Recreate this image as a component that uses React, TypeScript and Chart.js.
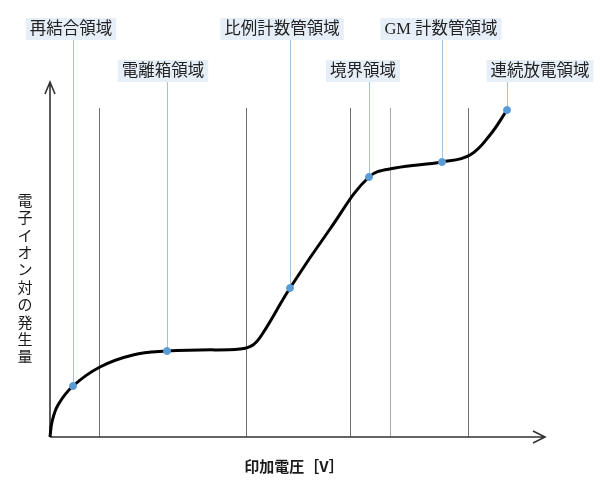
import React, { useEffect, useRef } from "react";
import { Chart, registerables } from "chart.js";

Chart.register(...registerables);

// Curve (arbitrary units: applied voltage vs. ion-pair count)
const curveX = [0, 2, 8, 23, 50, 83, 117, 150, 190, 203, 213, 240, 280, 319, 345, 392, 420, 440, 457];
const curveY = [0, 15, 32, 51, 70, 82, 86, 87, 88, 92, 104, 149, 208, 260, 269, 275, 282, 302, 327];

// Region callouts
const regionLabels = ["再結合領域", "電離箱領域", "比例計数管領域", "境界領域", "GM 計数管領域", "連続放電領域"];
const regionX = [23, 117, 240, 319, 392, 457];
const regionY = [51, 86, 149, 260, 275, 327];

// Region boundaries
const boundaryX = [49, 196, 300, 340, 418];
const boundaryTop = 329;

const xMax = 495;
const yMax = 355;

const xTitle = "印加電圧［V］";
const yTitle = "電子イオン対の発生量";

export default function App() {
  const ref = useRef<HTMLCanvasElement | null>(null);

  useEffect(() => {
    if (!ref.current) return;
    const labelLayout = [
      { dx: -2, row: 0 },
      { dx: -4, row: 1 },
      { dx: -8, row: 0 },
      { dx: -6, row: 1 },
      { dx: -1, row: 0 },
      { dx: 33, row: 1 },
    ];
    const rowTop = [18, 60];
    const boxH = 22;
    const labelFont = "16.5px 'Liberation Serif', 'Noto Sans CJK JP'";

    const decor = {
      id: "decor",
      beforeDatasetsDraw(chart: any) {
        const { ctx, scales } = chart;
        const xs = scales.x, ys = scales.y;
        ctx.save();
        boundaryX.forEach((bx, i) => {
          const px = Math.round(xs.getPixelForValue(bx)) + 0.5;
          ctx.strokeStyle = i === 3 ? "#a8a8a8" : "#6e6e6e";
          ctx.lineWidth = 1;
          ctx.beginPath();
          ctx.moveTo(px, ys.getPixelForValue(boundaryTop));
          ctx.lineTo(px, ys.getPixelForValue(0));
          ctx.stroke();
        });
        ctx.strokeStyle = "#9fc4e2";
        ctx.lineWidth = 1;
        regionX.forEach((rx, i) => {
          const px = Math.round(xs.getPixelForValue(rx)) + 0.5;
          const top = rowTop[labelLayout[i].row] + boxH;
          ctx.beginPath();
          ctx.moveTo(px, top);
          ctx.lineTo(px, ys.getPixelForValue(regionY[i]));
          ctx.stroke();
        });
        const x0 = xs.getPixelForValue(0);
        const y0 = ys.getPixelForValue(0);
        const x1 = xs.getPixelForValue(xMax);
        const y1 = ys.getPixelForValue(yMax);
        ctx.strokeStyle = "#333";
        ctx.lineWidth = 1.6;
        ctx.beginPath();
        ctx.moveTo(x0, y0);
        ctx.lineTo(x0, y1);
        ctx.moveTo(x0 - 5, y1 + 12);
        ctx.lineTo(x0, y1);
        ctx.lineTo(x0 + 5, y1 + 12);
        ctx.moveTo(x0, y0);
        ctx.lineTo(x1, y0);
        ctx.moveTo(x1 - 12, y0 - 6);
        ctx.lineTo(x1, y0);
        ctx.lineTo(x1 - 12, y0 + 6);
        ctx.stroke();
        ctx.fillStyle = "#1a1a1a";
        ctx.font = "bold 15px 'Noto Sans CJK JP'";
        ctx.textAlign = "center";
        ctx.textBaseline = "middle";
        ctx.fillText(xTitle, 294, 466);
        ctx.font = "15px 'Noto Sans CJK JP'";
        const chars = Array.from(yTitle);
        chars.forEach((c, i) => {
          ctx.fillText(c, 25, 200 + i * 17.4);
        });
        ctx.restore();
      },
      afterDatasetsDraw(chart: any) {
        const { ctx, scales } = chart;
        const xs = scales.x;
        ctx.save();
        ctx.font = labelFont;
        ctx.textAlign = "center";
        ctx.textBaseline = "middle";
        regionLabels.forEach((t, i) => {
          const cx = xs.getPixelForValue(regionX[i]) + labelLayout[i].dx;
          const top = rowTop[labelLayout[i].row];
          const w = ctx.measureText(t).width + 8;
          ctx.fillStyle = "#e6eff8";
          ctx.fillRect(cx - w / 2, top, w, boxH);
          ctx.fillStyle = "#222";
          ctx.fillText(t, cx, top + boxH / 2 + 1);
        });
        ctx.restore();
      },
    };

    const chart = new Chart(ref.current, {
      type: "scatter",
      data: {
        datasets: [
          {
            data: curveX.map((x, i) => ({ x, y: curveY[i] })),
            showLine: true,
            borderColor: "#000",
            borderWidth: 3,
            pointRadius: 0,
            tension: 0.4,
            clip: false,
            order: 2,
          } as any,
          {
            data: regionX.map((x, i) => ({ x, y: regionY[i] })),
            showLine: false,
            pointRadius: 3.5,
            pointBackgroundColor: "#5b9bd5",
            pointBorderColor: "#5b9bd5",
            clip: false,
            order: 1,
          } as any,
        ],
      },
      options: {
        animation: false,
        responsive: false,
        layout: { padding: { left: 50, right: 55, top: 82, bottom: 48 } },
        plugins: { legend: { display: false }, tooltip: { enabled: false } },
        scales: {
          x: { type: "linear", min: 0, max: xMax, display: false },
          y: { type: "linear", min: 0, max: yMax, display: false },
        },
      },
      plugins: [decor],
    });
    return () => chart.destroy();
  }, []);

  return (
    <div style={{ position: "fixed", left: 0, top: 0, width: 600, height: 485, background: "#fff" }}>
      <canvas ref={ref} width={600} height={485} style={{ width: 600, height: 485 }} />
    </div>
  );
}
